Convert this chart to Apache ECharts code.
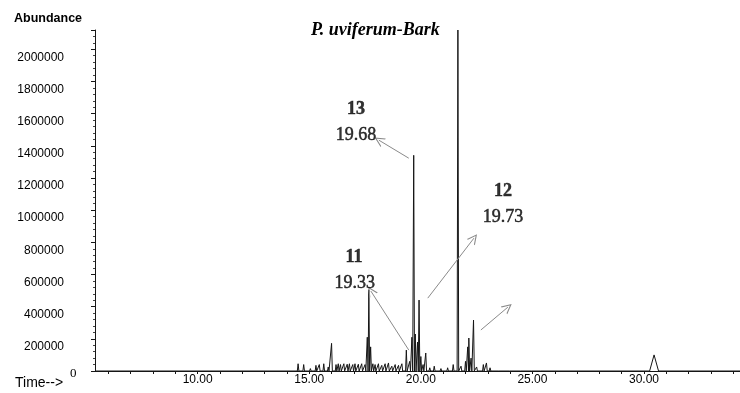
<!DOCTYPE html>
<html>
<head>
<meta charset="utf-8">
<script src="https://cdn.jsdelivr.net/npm/echarts@6/dist/echarts.min.js"></script>
<style>
  html, body { margin: 0; padding: 0; background: #fff; }
  #chart { width: 740px; height: 393px; }
</style>
</head>
<body>
<div id="chart"></div>
<script>
// ---- data ----
const peakTimes   = [14.5, 14.75, 15.05, 15.3, 15.45, 15.65, 15.85, 16.0, 16.2, 16.3, 16.4, 16.55, 16.7, 16.8, 16.95, 17.05, 17.2, 17.35, 17.5, 17.6, 17.67, 17.75, 17.85, 17.95, 18.1, 18.25, 18.4, 18.55, 18.7, 18.85, 19.0, 19.15, 19.35, 19.5, 19.6, 19.68, 19.75, 19.85, 19.92, 20.0, 20.1, 20.22, 20.4, 20.6, 20.9, 21.2, 21.45, 21.66, 21.8, 22.0, 22.1, 22.15, 22.25, 22.36, 22.5, 22.8, 22.94, 23.1, 23.5, 24.0, 24.5, 25.0, 25.4, 30.45];
const peakHeights = [45000, 40000, 15000, 35000, 40000, 45000, 25000, 172000, 40000, 45000, 40000, 45000, 42000, 45000, 40000, 45000, 42000, 45000, 40000, 210000, 505000, 150000, 45000, 40000, 45000, 35000, 45000, 50000, 30000, 40000, 35000, 45000, 130000, 60000, 210000, 1341000, 230000, 180000, 441000, 90000, 40000, 112000, 20000, 30000, 15000, 20000, 40000, 2120000, 30000, 60000, 150000, 205000, 80000, 317000, 25000, 40000, 50000, 20000, 12000, 10000, 8000, 8000, 6000, 100000];
const peakWidths  = peakTimes.map(t => t > 30 ? 0.2 : 0.035);
const timeStart = 5.4, timeEnd = 34.3;

const xTickValues  = [6,7,8,9,10,11,12,13,14,15,16,17,18,19,20,21,22,23,24,25,26,27,28,29,30,31,32,33,34];
const xLabelValues = [10, 15, 20, 25, 30];
const yMax = 2120000, yStep = 200000;

// annotation texts (anchored in data coordinates)
const boldNumTexts = ['13', '12', '11'];
const boldNumTimes = [17.09, 23.68, 17.0];
const boldNumVals  = [1627000, 1118000, 708000];
const rtTexts = ['19.68', '19.73', '19.33'];
const rtTimes = [17.09, 23.68, 17.04];
const rtVals  = [1466000, 956000, 547000];

// arrows: from -> to (head at "to")
const arrowFrom = [[19.46, 1323000], [20.31, 453000], [19.46, 130000], [22.69, 255000]];
const arrowTo   = [[18.12, 1435000], [22.38, 826000], [17.76, 497000], [23.90, 397000]];

// ---- build the trace ----
const trace = [[timeStart, 0]];
peakTimes.forEach((t, i) => {
  trace.push([t - peakWidths[i], 0], [t, peakHeights[i]], [t + peakWidths[i], 0]);
});
trace.push([timeEnd, 0]);

const chart = echarts.init(document.getElementById('chart'), null, { renderer: 'canvas' });
const ink = '#161616';
const textLabel = (weight) => ({
  show: true, position: 'inside', formatter: p => p.data[2],
  fontFamily: 'Liberation Serif', fontWeight: weight, fontSize: 18,
  color: '#000', textBorderColor: '#000', textBorderWidth: 0.5
});
const option = {
  animation: false,
  backgroundColor: '#ffffff',
  title: {
    text: 'P. uviferum-Bark',
    left: 306, top: 16,
    textStyle: { fontFamily: 'Liberation Serif', fontStyle: 'italic', fontWeight: 'bold', fontSize: 18, color: '#000' }
  },
  grid: { left: 95, right: 0, top: 30, bottom: 22 },
  xAxis: {
    type: 'value', min: timeStart, max: timeEnd,
    axisLine: { lineStyle: { color: ink, width: 1 } },
    axisTick: { show: true, length: 3, customValues: xTickValues, lineStyle: { color: ink } },
    axisLabel: { customValues: xLabelValues, formatter: v => v.toFixed(2), fontFamily: 'Liberation Sans', fontSize: 12, color: '#000', margin: 3 },
    splitLine: { show: false }
  },
  yAxis: {
    type: 'value', min: 0, max: yMax, interval: yStep,
    axisLine: { show: true, lineStyle: { color: ink, width: 1 } },
    axisTick: { show: true, length: 4, lineStyle: { color: ink } },
    minorTick: { show: true, splitNumber: 5, length: 2, lineStyle: { color: '#444' } },
    axisLabel: { showMinLabel: false, showMaxLabel: false, formatter: v => String(v), fontFamily: 'Liberation Sans', fontSize: 12, color: '#000', margin: 31, verticalAlign: 'top', lineHeight: 16 },
    splitLine: { show: false }, minorSplitLine: { show: false }
  },
  graphic: [
    { type: 'text', left: 14, top: 12, style: { text: 'Abundance', font: 'bold 12.5px "Liberation Sans"', fill: '#000' } },
    { type: 'text', left: 15, top: 376, style: { text: 'Time-->', font: '14px "Liberation Sans"', fill: '#000' } },
    { type: 'text', left: 70, top: 367, style: { text: '0', font: '13px "Liberation Serif"', fill: '#000' } }
  ],
  series: [
    {
      type: 'line', data: trace, showSymbol: false, symbol: 'none', sampling: null,
      lineStyle: { color: ink, width: 1 }, silent: true, z: 3
    },
    {
      type: 'lines', coordinateSystem: 'cartesian2d', silent: true, z: 4,
      symbol: ['none', 'path://M0,10 L5,0 L10,10 L8.8,10 L5,2.4 L1.2,10 Z'], symbolSize: 10,
      lineStyle: { color: '#8a8a8a', width: 1, opacity: 1 },
      data: arrowFrom.map((f, i) => ({ coords: [f, arrowTo[i]] }))
    },
    {
      type: 'scatter', silent: true, symbolSize: 1, itemStyle: { color: 'rgba(0,0,0,0)' }, z: 5,
      data: boldNumTexts.map((s, i) => [boldNumTimes[i], boldNumVals[i], s]),
      label: textLabel('bold')
    },
    {
      type: 'scatter', silent: true, symbolSize: 1, itemStyle: { color: 'rgba(0,0,0,0)' }, z: 5,
      data: rtTexts.map((s, i) => [rtTimes[i], rtVals[i], s]),
      label: textLabel('normal')
    }
  ]
};
chart.setOption(option);
</script>
</body>
</html>
